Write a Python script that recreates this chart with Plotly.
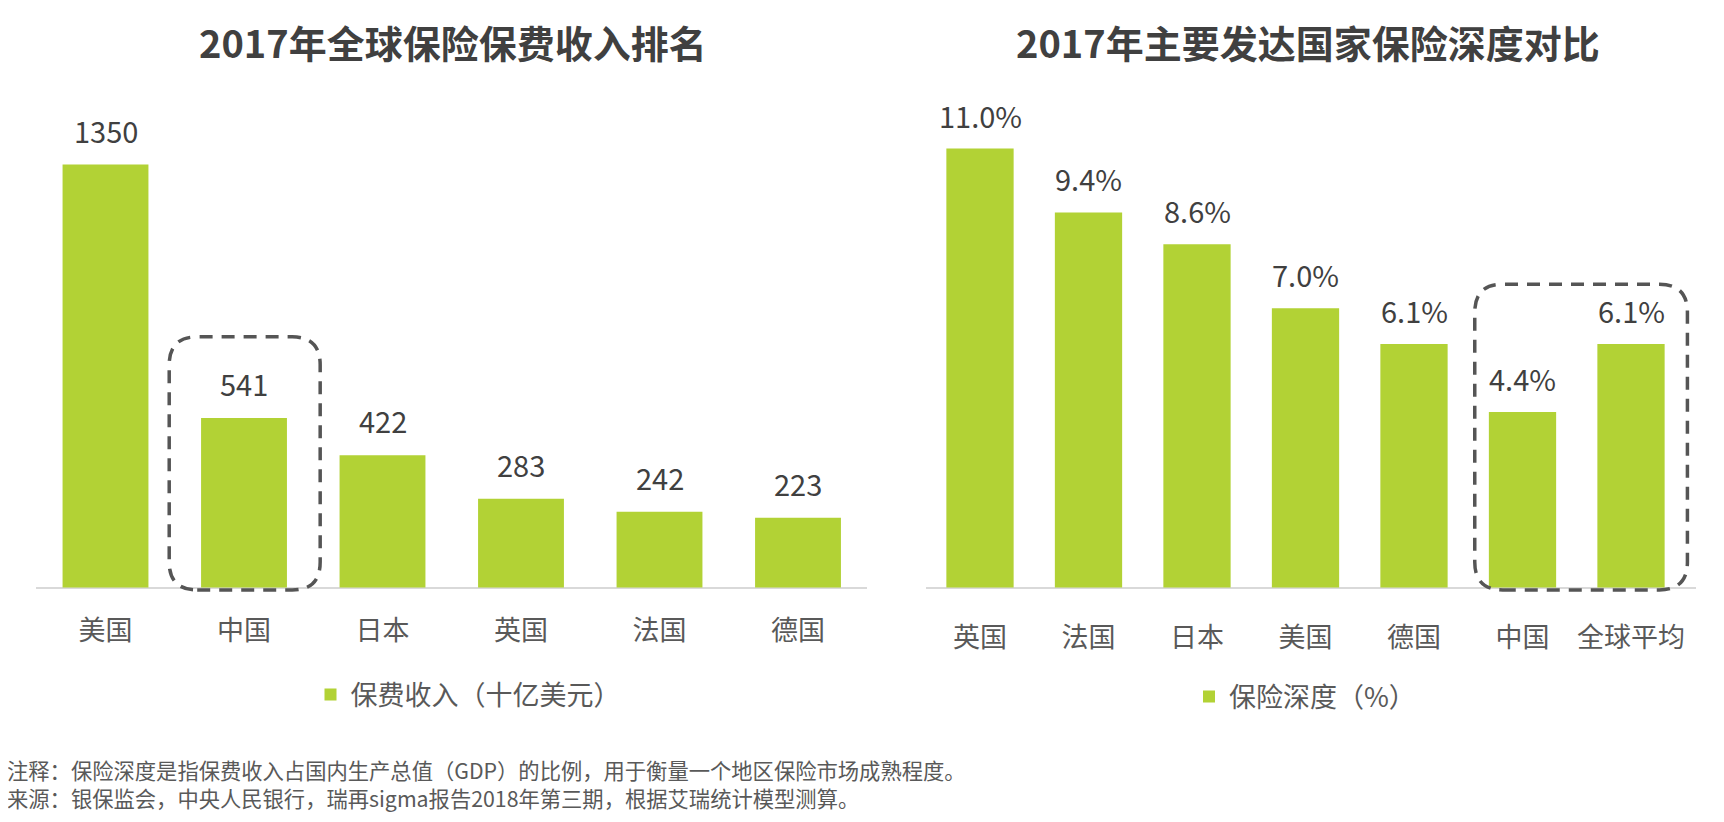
import plotly.graph_objects as go

# left chart: premium income 2017 (billion USD)
countries_income = ['美国', '中国', '日本', '英国', '法国', '德国']
income = [1350, 541, 422, 283, 242, 223]

# right chart: insurance depth 2017 (%)
countries_depth = ['英国', '法国', '日本', '美国', '德国', '中国', '全球平均']
depth = [11.0, 9.4, 8.6, 7.0, 6.1, 4.4, 6.1]

title_left = '2017年全球保险保费收入排名'
title_right = '2017年主要发达国家保险深度对比'
legend_left = '保费收入（十亿美元）'
legend_right = '保险深度（%）'
note_lines = [
    '注释：保险深度是指保费收入占国内生产总值（GDP）的比例，用于衡量一个地区保险市场成熟程度。',
    '来源：银保监会，中央人民银行，瑞再sigma报告2018年第三期，根据艾瑞统计模型测算。',
]

# page is 1724x822, the body keeps an 8px margin around the figure
OFF = 8
W, H = 1724 - 2 * OFF, 822 - 2 * OFF
BASE = 587.5          # pixel row of the baseline (page coords)
FONT = 'Noto Sans CJK SC'
GREEN = '#b2d235'
DARK = '#404040'
GREY = '#595959'

# pixel geometry of the two panels (first bar centre, bar step, px per unit)
L = dict(c0=105.5, step=138.5, k=0.3133, xr=[-0.5, 5.5], yr=[-15, 1560])
R = dict(c0=980.0, step=108.5, k=39.9, xr=[-0.5, 6.6], yr=[-0.3, 12.3])


def px(x):
    return (x - OFF) / W


def py(y):
    return (H - (y - OFF)) / H


def domains(p):
    x0 = px(p['c0'] + p['xr'][0] * p['step'])
    x1 = px(p['c0'] + p['xr'][1] * p['step'])
    ybot = BASE - p['yr'][0] * p['k']
    ytop = BASE - p['yr'][1] * p['k']
    return [x0, x1], [py(ybot), py(ytop)]


def round_box(x0, x1, y0, y1, rx, ry):
    return (f'M{x0 + rx},{y0} L{x1 - rx},{y0} Q{x1},{y0} {x1},{y0 + ry} '
            f'L{x1},{y1 - ry} Q{x1},{y1} {x1 - rx},{y1} '
            f'L{x0 + rx},{y1} Q{x0},{y1} {x0},{y1 - ry} '
            f'L{x0},{y0 + ry} Q{x0},{y0} {x0 + rx},{y0} Z')


fig = go.Figure()

fig.add_trace(go.Bar(
    x=list(range(len(income))), y=income, name=legend_left,
    marker=dict(color=GREEN, line=dict(width=0)), showlegend=True,
    xaxis='x', yaxis='y', legend='legend', hoverinfo='y',
))
fig.add_trace(go.Bar(
    x=list(range(len(depth))), y=depth, name=legend_right,
    marker=dict(color=GREEN, line=dict(width=0)), showlegend=True,
    xaxis='x2', yaxis='y2', legend='legend2', hoverinfo='y',
))

lx, ly = domains(L)
rx, ry = domains(R)

xaxis_common = dict(
    showgrid=False, zeroline=False, showline=False, ticks='',
    tickfont=dict(family=FONT, size=27, color=GREY),
    ticklabelstandoff=20, fixedrange=True,
)
yaxis_common = dict(
    showgrid=False, showticklabels=False, showline=False,
    zeroline=True, zerolinecolor='#d9d9d9', zerolinewidth=2, fixedrange=True,
)
legend_common = dict(xanchor='center', yanchor='middle', orientation='h',
                     font=dict(size=27, color=GREY, family=FONT),
                     itemwidth=30, bgcolor='rgba(0,0,0,0)')

fig.update_layout(
    width=W, height=H,
    margin=dict(l=0, r=0, t=0, b=0),
    paper_bgcolor='white', plot_bgcolor='white',
    bargap=0.38, showlegend=True,
    font=dict(family=FONT, color=GREY),
    xaxis=dict(domain=lx, range=L['xr'], tickvals=list(range(len(income))),
               ticktext=countries_income, anchor='y', **xaxis_common),
    yaxis=dict(domain=ly, range=L['yr'], anchor='x', **yaxis_common),
    xaxis2=dict(domain=rx, range=R['xr'], tickvals=list(range(len(depth))),
                ticktext=countries_depth, anchor='y2', **xaxis_common),
    yaxis2=dict(domain=ry, range=R['yr'], anchor='x2', **yaxis_common),
    legend=dict(x=px(468), y=py(695), **legend_common),
    legend2=dict(x=px(1305), y=py(697), **legend_common),
)

# value labels above the bars
for i, v in enumerate(income):
    fig.add_annotation(x=i, y=v, xref='x', yref='y', text=str(v), showarrow=False,
                       yshift=35, yanchor='middle',
                       font=dict(family=FONT, size=29, color=DARK))
for i, v in enumerate(depth):
    fig.add_annotation(x=i, y=v, xref='x2', yref='y2', text=f'{v:.1f}%', showarrow=False,
                       yshift=34, yanchor='middle',
                       font=dict(family=FONT, size=29, color=DARK))

# titles
for txt, cx in [(title_left, 453), (title_right, 1308)]:
    fig.add_annotation(x=px(cx), y=py(42), xref='paper', yref='paper',
                       text=f'<b>{txt}</b>', showarrow=False, xanchor='center', yanchor='middle',
                       font=dict(family=FONT, size=38, color=DARK))

# footnotes (one block so the two lines keep their spacing)
fig.add_annotation(x=px(5), y=py(783), xref='paper', yref='paper', text='<br>'.join(note_lines),
                   showarrow=False, xanchor='left', yanchor='middle', align='left',
                   font=dict(family=FONT, size=21.3, color=GREY))

# dashed highlight boxes (China)
dash_line = dict(color='#555555', width=3.5, dash='13px,9px')
fig.add_shape(type='path', xref='x', yref='y', line=dash_line, layer='above',
              path=round_box(0.46, 1.55, -8, 800, 28 / L['step'], 28 / L['k']))
fig.add_shape(type='path', xref='x2', yref='y2', line=dash_line, layer='above',
              path=round_box(4.56, 6.52, -0.06, 7.6, 28 / R['step'], 28 / R['k']))

fig.write_html('out.html')
